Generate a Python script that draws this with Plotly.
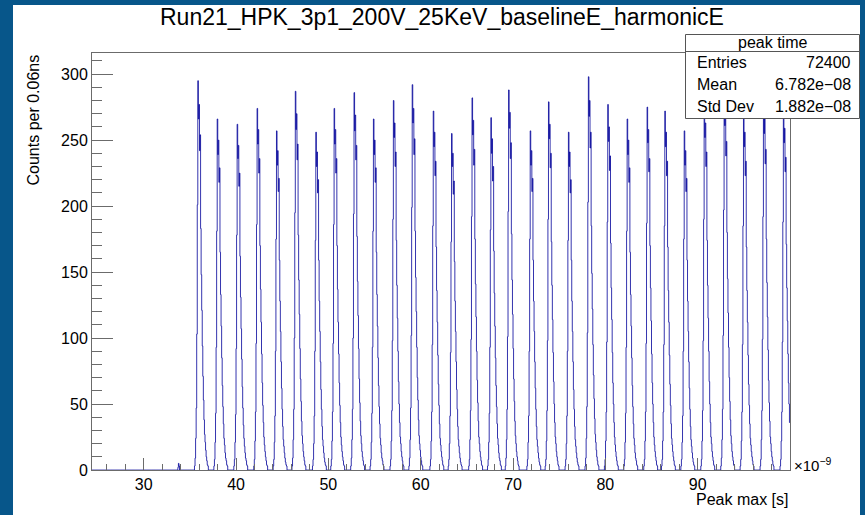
import numpy as np
import plotly.graph_objects as go

# ---- data ----
TITLE = "Run21_HPK_3p1_200V_25KeV_baselineE_harmonicE"
X_MIN, X_MAX, BIN_W = 24.4, 100.0, 0.06   # ns, 1260 bins of 0.06 ns

# time of the highest bin of each peak (ns) and its height (counts)
peak_times_ns = [35.85, 37.97, 40.14, 42.30, 44.40, 46.39, 48.63, 50.61, 52.78, 54.87,
                 57.03, 59.09, 61.37, 63.36, 65.56, 67.61, 69.53, 71.84, 73.82, 75.99,
                 78.15, 80.25, 82.38, 84.54, 86.46, 88.55, 90.70, 92.85, 94.95, 97.10,
                 99.30]
peak_heights = [295, 266, 262, 274, 257, 287, 256, 274, 286, 266,
                280, 292, 272, 255, 282, 267, 288, 257, 279, 256,
                298, 277, 266, 275, 272, 257, 280, 290, 272, 283,
                276]
# relative bin contents across one peak, from 6 bins before the top bin
peak_profile = [0.01, 0.03, 0.08, 0.16, 0.35, 0.68, 1.0, 0.9, 0.94, 0.82,
                0.86, 0.62, 0.5, 0.41, 0.32, 0.24, 0.18, 0.13, 0.09, 0.07,
                0.05, 0.035, 0.025, 0.015, 0.01]
PROFILE_START = -6

# a few stray entries before the first peak
stray_times_ns = [33.70, 33.76, 33.82]
stray_counts = [2, 5, 3]

x_tick_vals = [30, 40, 50, 60, 70, 80, 90]
stats_rows = [("Entries", "72400"), ("Mean", "6.782e\u221208"), ("Std Dev", "1.882e\u221208")]

# ---- build the histogram ----
n_bins = int(round((X_MAX - X_MIN) / BIN_W))
edges = X_MIN + BIN_W * np.arange(n_bins + 1)
counts = np.zeros(n_bins)
for t, h in zip(peak_times_ns, peak_heights):
    i0 = int(round((t - X_MIN) / BIN_W))
    for k, f in enumerate(peak_profile):
        i = i0 + PROFILE_START + k
        if 0 <= i < n_bins:
            counts[i] += round(h * f)
for t, c in zip(stray_times_ns, stray_counts):
    counts[int(round((t - X_MIN) / BIN_W))] += c

# ---- canvas geometry (pixels) ----
W, H = 865, 515
L, R, T, B = 92, 75, 53, 45
pw, ph = W - L - R, H - T - B

def px_x(x):
    return (x - L) / pw

def px_y(y):
    return (H - B - y) / ph

BORDER = "#07568a"
AXIS = "#6b6b6b"
FONT = "Liberation Sans, Arial, sans-serif"

fig = go.Figure()
fig.add_trace(go.Scatter(
    x=edges,
    y=np.append(counts, counts[-1]),
    mode="lines",
    line=dict(shape="hv", color="#000099", width=0.8),
    hoverinfo="skip",
    showlegend=False,
))

shapes = [
    # white canvas inside the blue border
    dict(type="rect", xref="paper", yref="paper", layer="below",
         x0=px_x(13), x1=px_x(860), y0=px_y(530), y1=px_y(5),
         fillcolor="white", line=dict(width=0)),
    # stats box
    dict(type="rect", xref="paper", yref="paper", layer="above",
         x0=px_x(685.5), x1=px_x(859.5), y0=px_y(118.5), y1=px_y(34.5),
         fillcolor="white", line=dict(color="#555", width=1)),
    dict(type="line", xref="paper", yref="paper", layer="above",
         x0=px_x(685.5), x1=px_x(859.5), y0=px_y(51.5), y1=px_y(51.5),
         line=dict(color="#555", width=1)),
]

annotations = [
    dict(text=TITLE, x=px_x(442), y=px_y(17), xref="paper", yref="paper",
         showarrow=False, xanchor="center", yanchor="middle",
         font=dict(size=23, color="black", family=FONT)),
    dict(text="peak time", x=px_x(772), y=px_y(43), xref="paper", yref="paper",
         showarrow=False, xanchor="center", yanchor="middle",
         font=dict(size=16, color="black", family=FONT)),
    dict(text="Peak max [s]", x=px_x(790), y=px_y(499), xref="paper", yref="paper",
         showarrow=False, xanchor="right", yanchor="middle",
         font=dict(size=16, color="black", family=FONT)),
    dict(text="\u00d710<sup>\u22129</sup>", x=px_x(792), y=px_y(464), xref="paper", yref="paper",
         showarrow=False, xanchor="left", yanchor="middle",
         font=dict(size=15, color="black", family=FONT)),
    dict(text="Counts per 0.06ns", x=px_x(33), y=px_y(53), xref="paper", yref="paper",
         showarrow=False, xanchor="center", yanchor="top", textangle=-90,
         font=dict(size=16, color="black", family=FONT)),
]
row_y = [63, 85, 106]
for (label, value), y in zip(stats_rows, row_y):
    annotations.append(dict(text=label, x=px_x(695), y=px_y(y), xref="paper", yref="paper",
                            showarrow=False, xanchor="left", yanchor="middle",
                            font=dict(size=16, color="black", family=FONT)))
    annotations.append(dict(text=value, x=px_x(853), y=px_y(y), xref="paper", yref="paper",
                            showarrow=False, xanchor="right", yanchor="middle",
                            font=dict(size=16, color="black", family=FONT)))

fig.update_layout(
    width=W, height=H, autosize=False,
    margin=dict(l=L, r=R, t=T, b=B, pad=0),
    paper_bgcolor=BORDER,
    plot_bgcolor="rgba(0,0,0,0)",
    font=dict(family=FONT, size=16, color="black"),
    shapes=shapes,
    annotations=annotations,
)
fig.update_xaxes(
    range=[X_MIN, X_MAX], tickvals=x_tick_vals,
    showgrid=False, zeroline=False,
    showline=True, linecolor=AXIS, linewidth=1, mirror=True,
    ticks="inside", ticklen=12, tickcolor=AXIS, tickwidth=1,
    minor=dict(dtick=2, tick0=0, ticks="inside", ticklen=6, tickcolor=AXIS, showgrid=False),
    tickfont=dict(size=16, family=FONT, color="black"),
)
fig.update_yaxes(
    range=[0, 316], dtick=50, tick0=0,
    showgrid=False, zeroline=False,
    showline=True, linecolor=AXIS, linewidth=1, mirror=True,
    ticks="inside", ticklen=21, tickcolor=AXIS, tickwidth=1,
    minor=dict(dtick=10, ticks="inside", ticklen=10, tickcolor=AXIS, showgrid=False),
    tickfont=dict(size=16, family=FONT, color="black"),
)

fig.write_html("out.html", config={"displayModeBar": False},
               post_script="document.body.style.margin='0';")
